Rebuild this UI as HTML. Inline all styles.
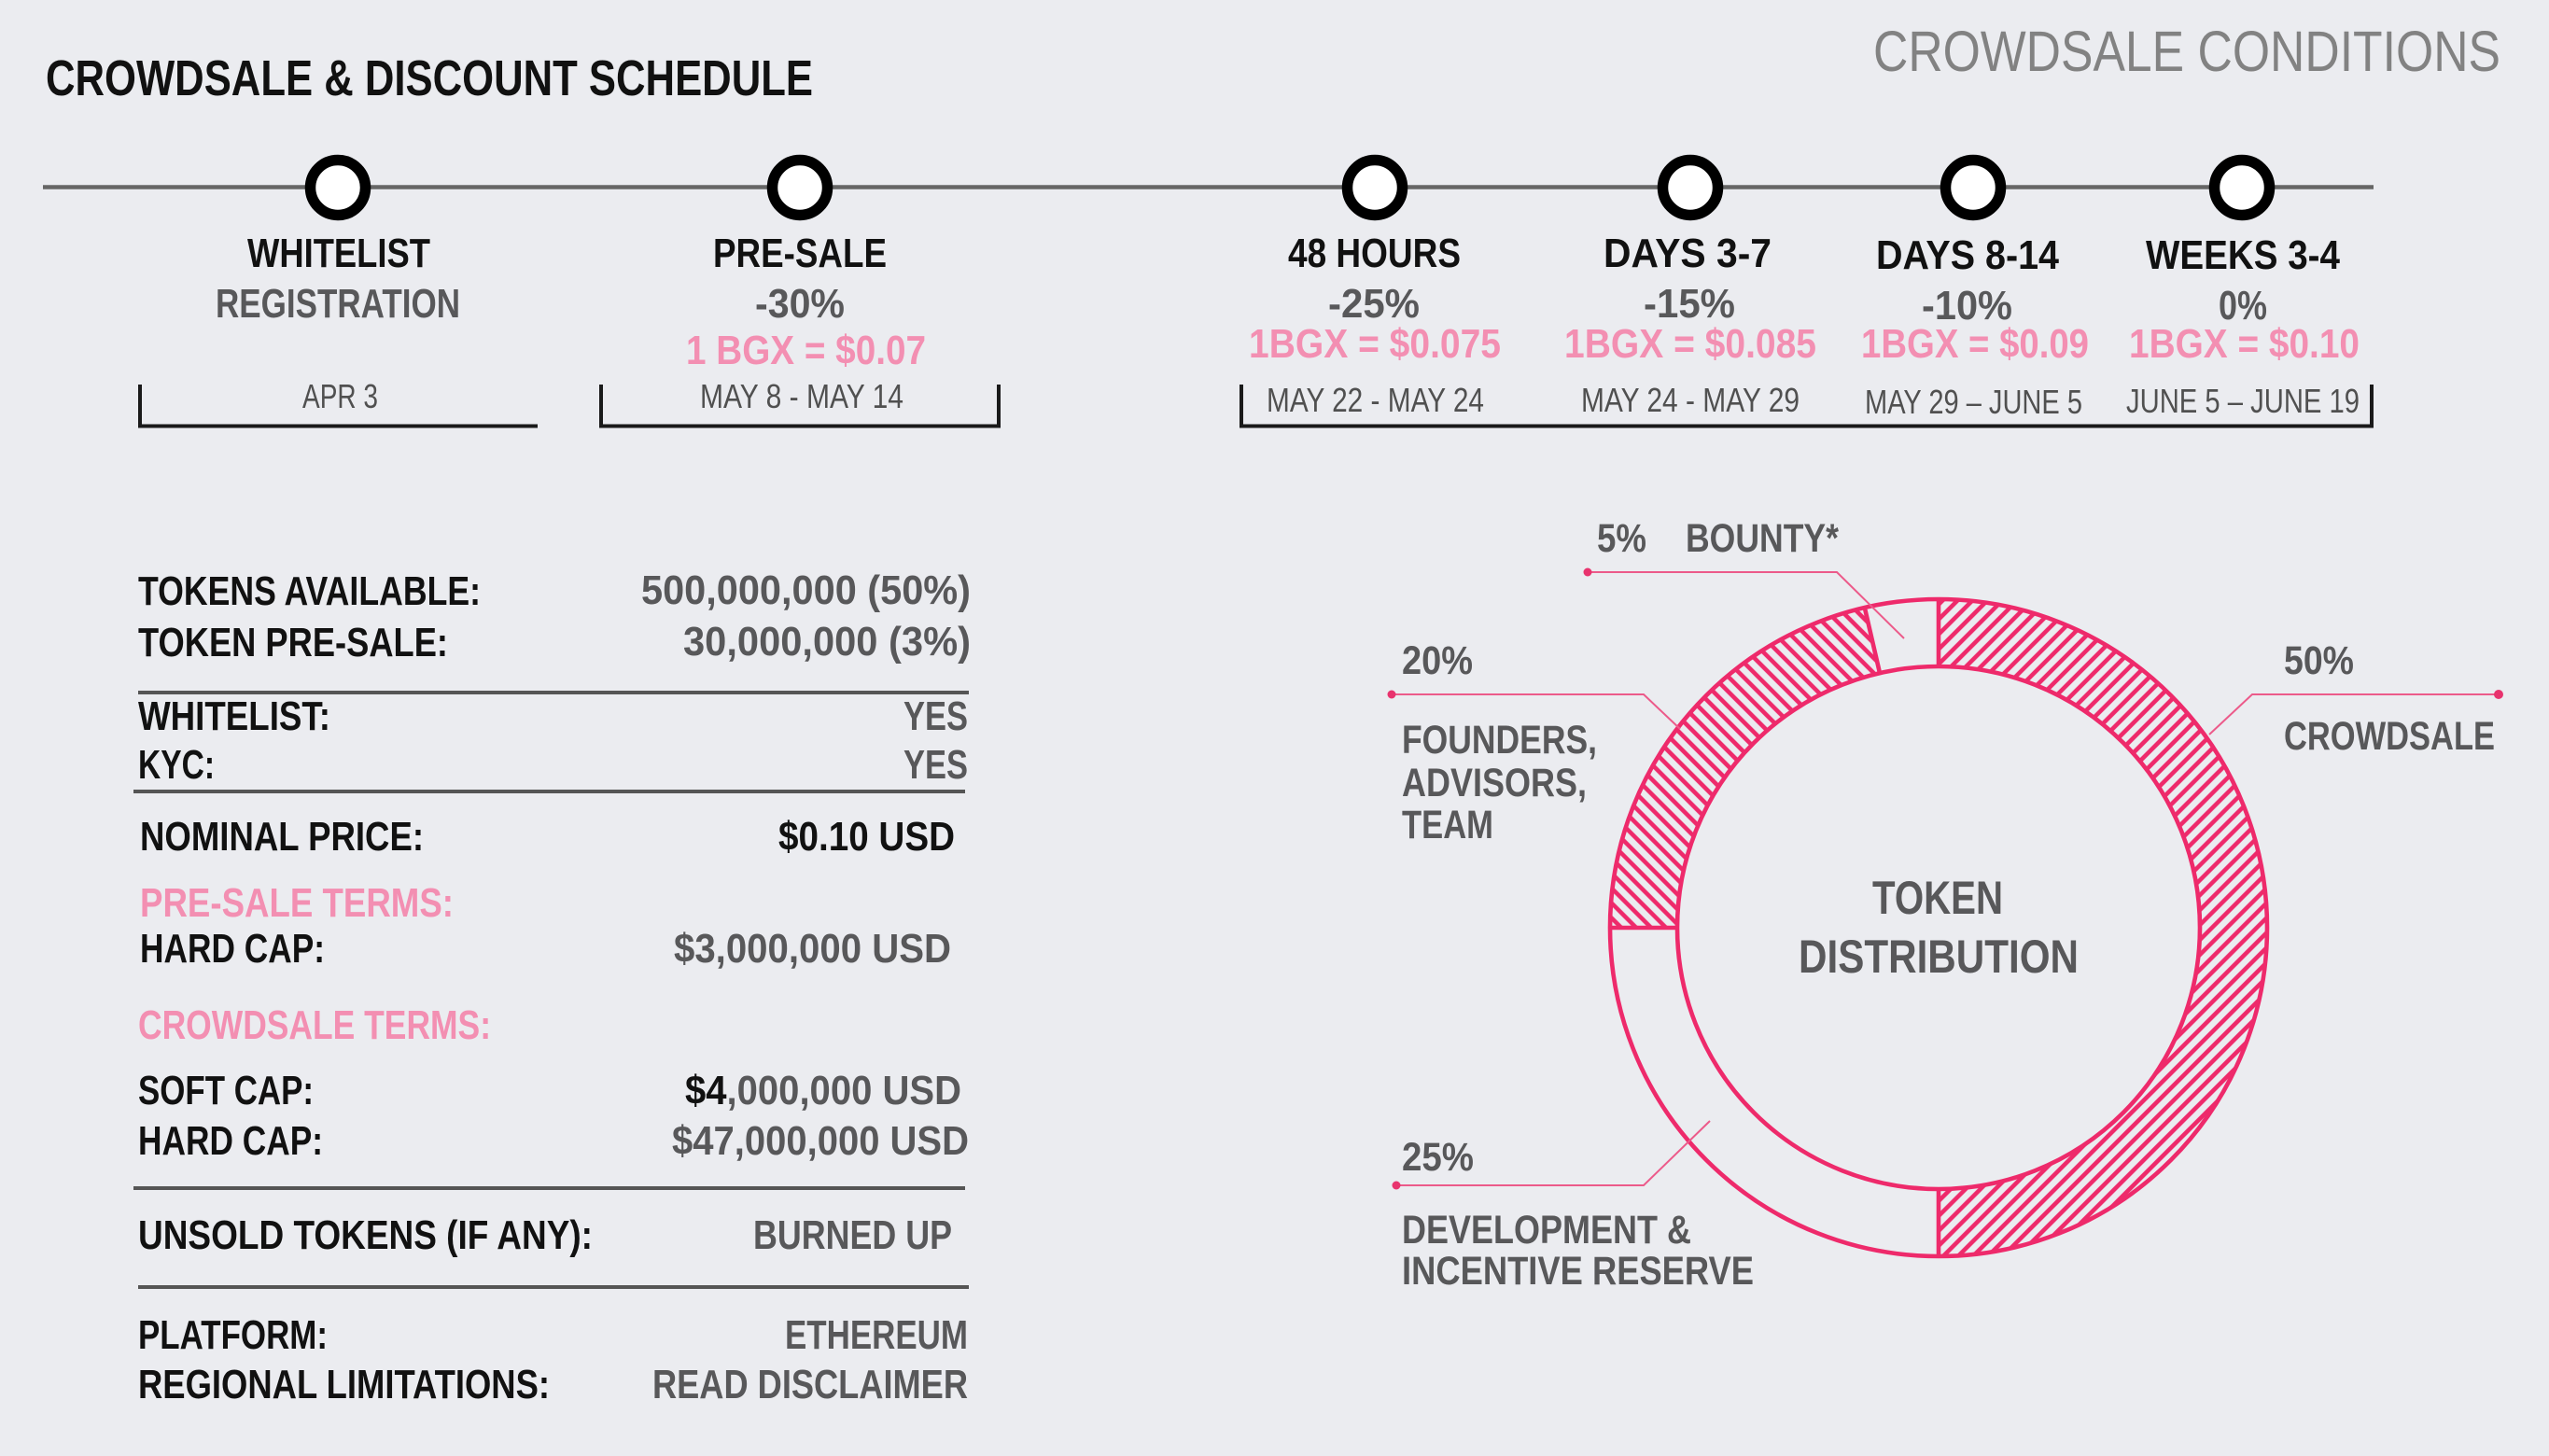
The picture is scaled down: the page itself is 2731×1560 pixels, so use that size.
<!DOCTYPE html>
<html>
<head>
<meta charset="utf-8">
<style>
html,body{margin:0;padding:0;background:#ebecf0;}
svg{display:block;}
text{font-family:"Liberation Sans Narrow","Liberation Sans",sans-serif;}
.b{font-weight:bold;}
.blk{fill:#111;}
.gry{fill:#58585a;}
.pk{fill:#f38fb2;}
.dt{fill:#505050;font-size:36px;}
.tl{font-size:44px;font-weight:bold;}
.tb{font-size:44px;font-weight:bold;}
.dn{font-size:43px;font-weight:bold;fill:#58585a;}
</style>
</head>
<body>
<svg width="2731" height="1560" viewBox="0 0 2731 1560" xmlns="http://www.w3.org/2000/svg">
<defs>
<pattern id="h1" patternUnits="userSpaceOnUse" width="11.3" height="11.3" patternTransform="rotate(45)">
<line x1="5.65" y1="-2" x2="5.65" y2="13.3" stroke="#ee2a6b" stroke-width="4.6"/>
</pattern>
<pattern id="h2" patternUnits="userSpaceOnUse" width="11.3" height="11.3" patternTransform="rotate(-45)">
<line x1="5.65" y1="-2" x2="5.65" y2="13.3" stroke="#ee2a6b" stroke-width="4.6"/>
</pattern>
</defs>
<rect width="2731" height="1560" fill="#ebecf0"/>

<!-- Titles -->
<text x="49" y="102" font-size="54" class="b blk" textLength="822" lengthAdjust="spacingAndGlyphs">CROWDSALE &amp; DISCOUNT SCHEDULE</text>
<text x="2007" y="76" font-size="61" fill="#828282" textLength="672" lengthAdjust="spacingAndGlyphs">CROWDSALE CONDITIONS</text>

<!-- Timeline -->
<line x1="46" y1="200.5" x2="2543" y2="200.5" stroke="#666" stroke-width="4.5"/>
<g fill="#fff" stroke="#000" stroke-width="11.5">
<circle cx="362" cy="201" r="29.5"/>
<circle cx="857" cy="201" r="29.5"/>
<circle cx="1473" cy="201" r="29.5"/>
<circle cx="1811" cy="201" r="29.5"/>
<circle cx="2114" cy="201" r="29.5"/>
<circle cx="2402" cy="201" r="29.5"/>
</g>

<!-- Timeline labels row 1 -->
<g class="tl blk">
<text x="265" y="286" textLength="196" lengthAdjust="spacingAndGlyphs">WHITELIST</text>
<text x="764" y="286" textLength="186" lengthAdjust="spacingAndGlyphs">PRE-SALE</text>
<text x="1380" y="286" textLength="185" lengthAdjust="spacingAndGlyphs">48 HOURS</text>
<text x="1718" y="286" textLength="180" lengthAdjust="spacingAndGlyphs">DAYS 3-7</text>
<text x="2010" y="288" textLength="196" lengthAdjust="spacingAndGlyphs">DAYS 8-14</text>
<text x="2299" y="288" textLength="208" lengthAdjust="spacingAndGlyphs">WEEKS 3-4</text>
</g>
<!-- row 2 -->
<g class="tl gry">
<text x="231" y="340" textLength="262" lengthAdjust="spacingAndGlyphs">REGISTRATION</text>
<text x="809" y="340" textLength="96" lengthAdjust="spacingAndGlyphs">-30%</text>
<text x="1423" y="340" textLength="98" lengthAdjust="spacingAndGlyphs">-25%</text>
<text x="1761" y="340" textLength="98" lengthAdjust="spacingAndGlyphs">-15%</text>
<text x="2059" y="342" textLength="97" lengthAdjust="spacingAndGlyphs">-10%</text>
<text x="2377" y="342" textLength="52" lengthAdjust="spacingAndGlyphs">0%</text>
</g>
<!-- row 3 prices -->
<g class="tl pk">
<text x="735" y="390" textLength="257" lengthAdjust="spacingAndGlyphs">1 BGX = $0.07</text>
<text x="1338" y="383" textLength="270" lengthAdjust="spacingAndGlyphs">1BGX = $0.075</text>
<text x="1676" y="383" textLength="270" lengthAdjust="spacingAndGlyphs">1BGX = $0.085</text>
<text x="1994" y="383" textLength="244" lengthAdjust="spacingAndGlyphs">1BGX = $0.09</text>
<text x="2281" y="383" textLength="247" lengthAdjust="spacingAndGlyphs">1BGX = $0.10</text>
</g>
<!-- row 4 dates -->
<g class="dt">
<text x="324" y="437" textLength="81" lengthAdjust="spacingAndGlyphs">APR 3</text>
<text x="750" y="437" textLength="218" lengthAdjust="spacingAndGlyphs">MAY 8 - MAY 14</text>
<text x="1357" y="441" textLength="233" lengthAdjust="spacingAndGlyphs">MAY 22 - MAY 24</text>
<text x="1694" y="441" textLength="234" lengthAdjust="spacingAndGlyphs">MAY 24 - MAY 29</text>
<text x="1998" y="443" textLength="233" lengthAdjust="spacingAndGlyphs">MAY 29 – JUNE 5</text>
<text x="2278" y="442" textLength="250" lengthAdjust="spacingAndGlyphs">JUNE 5 – JUNE 19</text>
</g>
<!-- brackets -->
<g fill="none" stroke="#1a1a1a">
<polyline points="150,412 150,456.5 576,456.5" stroke-width="4"/>
<polyline points="644,412 644,456.5 1070,456.5 1070,412" stroke-width="4"/>
<polyline points="1330,412 1330,456.5 2541,456.5 2541,412" stroke-width="4"/>
</g>

<!-- Table -->
<g class="tb">
<text x="148" y="648" class="blk" textLength="367" lengthAdjust="spacingAndGlyphs">TOKENS AVAILABLE:</text>
<text x="687" y="647" class="gry" textLength="353" lengthAdjust="spacingAndGlyphs">500,000,000 (50%)</text>
<text x="148" y="703" class="blk" textLength="332" lengthAdjust="spacingAndGlyphs">TOKEN PRE-SALE:</text>
<text x="732" y="702" class="gry" textLength="308" lengthAdjust="spacingAndGlyphs">30,000,000 (3%)</text>
<text x="148" y="782" class="blk" textLength="206" lengthAdjust="spacingAndGlyphs">WHITELIST:</text>
<text x="968" y="782" class="gry" textLength="69" lengthAdjust="spacingAndGlyphs">YES</text>
<text x="148" y="834" class="blk" textLength="82" lengthAdjust="spacingAndGlyphs">KYC:</text>
<text x="968" y="834" class="gry" textLength="69" lengthAdjust="spacingAndGlyphs">YES</text>
<text x="150" y="911" class="blk" textLength="304" lengthAdjust="spacingAndGlyphs">NOMINAL PRICE:</text>
<text x="834" y="911" class="blk" textLength="189" lengthAdjust="spacingAndGlyphs">$0.10 USD</text>
<text x="150" y="982" class="pk" textLength="336" lengthAdjust="spacingAndGlyphs">PRE-SALE TERMS:</text>
<text x="150" y="1031" class="blk" textLength="198" lengthAdjust="spacingAndGlyphs">HARD CAP:</text>
<text x="722" y="1031" class="gry" textLength="297" lengthAdjust="spacingAndGlyphs">$3,000,000 USD</text>
<text x="148" y="1113" class="pk" textLength="378" lengthAdjust="spacingAndGlyphs">CROWDSALE TERMS:</text>
<text x="148" y="1183" class="blk" textLength="188" lengthAdjust="spacingAndGlyphs">SOFT CAP:</text>
<text x="734" y="1183" class="gry" textLength="296" lengthAdjust="spacingAndGlyphs"><tspan class="blk">$4</tspan>,000,000 USD</text>
<text x="148" y="1237" class="blk" textLength="198" lengthAdjust="spacingAndGlyphs">HARD CAP:</text>
<text x="720" y="1237" class="gry" textLength="318" lengthAdjust="spacingAndGlyphs">$47,000,000 USD</text>
<text x="148" y="1338" class="blk" textLength="487" lengthAdjust="spacingAndGlyphs">UNSOLD TOKENS (IF ANY):</text>
<text x="807" y="1338" class="gry" textLength="213" lengthAdjust="spacingAndGlyphs">BURNED UP</text>
<text x="148" y="1445" class="blk" textLength="203" lengthAdjust="spacingAndGlyphs">PLATFORM:</text>
<text x="841" y="1445" class="gry" textLength="196" lengthAdjust="spacingAndGlyphs">ETHEREUM</text>
<text x="148" y="1498" class="blk" textLength="441" lengthAdjust="spacingAndGlyphs">REGIONAL LIMITATIONS:</text>
<text x="699" y="1498" class="gry" textLength="338" lengthAdjust="spacingAndGlyphs">READ DISCLAIMER</text>
</g>
<g stroke="#555" stroke-width="4">
<line x1="148" y1="742" x2="1038" y2="742"/>
<line x1="143" y1="848" x2="1034" y2="848"/>
<line x1="143" y1="1273" x2="1034" y2="1273"/>
<line x1="148" y1="1379" x2="1038" y2="1379"/>
</g>

<!-- Donut -->
<path d="M 2077 642 A 352 352 0 0 1 2077 1346 L 2077 1274 A 280 280 0 0 0 2077 714 Z" fill="url(#h1)"/>
<path d="M 1725 994 A 352 352 0 0 1 1997.8 651 L 2014 721.2 A 280 280 0 0 0 1797 994 Z" fill="url(#h2)"/>
<g fill="none" stroke="#ee2a6b" stroke-width="4.6">
<circle cx="2077" cy="994" r="352"/>
<circle cx="2077" cy="994" r="280"/>
<line x1="2077" y1="642" x2="2077" y2="714"/>
<line x1="2077" y1="1274" x2="2077" y2="1346"/>
<line x1="1725" y1="994" x2="1797" y2="994"/>
<line x1="1997.8" y1="651" x2="2014" y2="721.2"/>
</g>

<!-- Leader lines -->
<g fill="none" stroke="#ec5a8a" stroke-width="2">
<polyline points="1701,613 1968,613 2040,684"/>
<polyline points="1491,744 1761,744 1800,781"/>
<polyline points="1496,1270 1761,1270 1832,1201"/>
<polyline points="2677,744 2413,744 2367,787"/>
</g>
<g fill="#e8336e">
<circle cx="1701" cy="613" r="4.5"/>
<circle cx="1491" cy="744" r="4.5"/>
<circle cx="1496" cy="1270" r="4.5"/>
<circle cx="2677" cy="744" r="5"/>
</g>

<!-- Donut labels -->
<g class="dn">
<text x="1711" y="591" textLength="53" lengthAdjust="spacingAndGlyphs">5%</text>
<text x="1806" y="591" textLength="164" lengthAdjust="spacingAndGlyphs">BOUNTY*</text>
<text x="1502" y="722" textLength="76" lengthAdjust="spacingAndGlyphs">20%</text>
<text x="1502" y="807" textLength="209" lengthAdjust="spacingAndGlyphs">FOUNDERS,</text>
<text x="1502" y="853" textLength="198" lengthAdjust="spacingAndGlyphs">ADVISORS,</text>
<text x="1502" y="898" textLength="98" lengthAdjust="spacingAndGlyphs">TEAM</text>
<text x="1502" y="1254" textLength="77" lengthAdjust="spacingAndGlyphs">25%</text>
<text x="1502" y="1332" textLength="310" lengthAdjust="spacingAndGlyphs">DEVELOPMENT &amp;</text>
<text x="1502" y="1376" textLength="377" lengthAdjust="spacingAndGlyphs">INCENTIVE RESERVE</text>
<text x="2447" y="722" textLength="75" lengthAdjust="spacingAndGlyphs">50%</text>
<text x="2447" y="803" textLength="226" lengthAdjust="spacingAndGlyphs">CROWDSALE</text>
<text x="2006" y="979" font-size="50" textLength="140" lengthAdjust="spacingAndGlyphs">TOKEN</text>
<text x="1927" y="1042" font-size="50" textLength="300" lengthAdjust="spacingAndGlyphs">DISTRIBUTION</text>
</g>
</svg>
</body>
</html>
